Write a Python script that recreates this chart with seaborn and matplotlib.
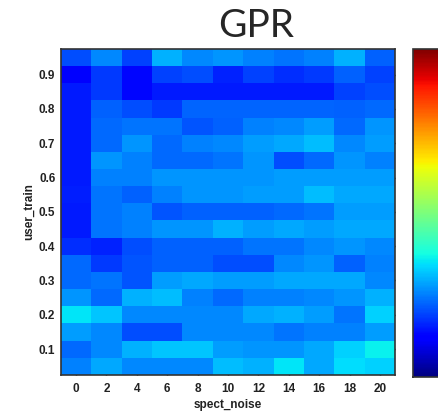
import matplotlib
matplotlib.use("Agg")
import matplotlib.pyplot as plt
import numpy as np
import pandas as pd
import seaborn as sns

# Assi della griglia
spect_noise = [0, 2, 4, 6, 8, 10, 12, 14, 16, 18, 20]
user_train = [0.95, 0.9, 0.85, 0.8, 0.75, 0.7, 0.65, 0.6, 0.55, 0.5,
              0.45, 0.4, 0.35, 0.3, 0.25, 0.2, 0.15, 0.1, 0.05]
ytick_labels = ["0.9", "0.8", "0.7", "0.6", "0.5", "0.4", "0.3", "0.2", "0.1"]

# Valori (scala normalizzata 0-1, riga per riga dall'alto)
row_095 = [0.20, 0.26, 0.19, 0.30, 0.26, 0.27, 0.25, 0.24, 0.25, 0.30, 0.22]
row_090 = [0.11, 0.18, 0.13, 0.19, 0.20, 0.16, 0.19, 0.17, 0.18, 0.22, 0.19]
row_085 = [0.15, 0.18, 0.13, 0.15, 0.15, 0.15, 0.15, 0.15, 0.15, 0.19, 0.20]
row_080 = [0.15, 0.22, 0.20, 0.18, 0.225, 0.225, 0.225, 0.225, 0.225, 0.22, 0.23]
row_075 = [0.15, 0.23, 0.24, 0.24, 0.21, 0.22, 0.25, 0.26, 0.28, 0.23, 0.27]
row_070 = [0.15, 0.23, 0.27, 0.23, 0.25, 0.26, 0.28, 0.29, 0.31, 0.26, 0.28]
row_065 = [0.15, 0.27, 0.25, 0.23, 0.23, 0.24, 0.27, 0.20, 0.23, 0.27, 0.25]
row_060 = [0.15, 0.25, 0.25, 0.27, 0.27, 0.27, 0.27, 0.28, 0.28, 0.28, 0.28]
row_055 = [0.155, 0.24, 0.22, 0.25, 0.27, 0.27, 0.28, 0.28, 0.31, 0.29, 0.29]
row_050 = [0.15, 0.24, 0.25, 0.21, 0.22, 0.22, 0.22, 0.23, 0.24, 0.28, 0.28]
row_045 = [0.15, 0.24, 0.25, 0.27, 0.27, 0.30, 0.28, 0.29, 0.28, 0.29, 0.29]
row_040 = [0.17, 0.16, 0.20, 0.22, 0.22, 0.22, 0.24, 0.24, 0.26, 0.27, 0.26]
row_035 = [0.23, 0.18, 0.21, 0.22, 0.22, 0.20, 0.20, 0.26, 0.27, 0.22, 0.25]
row_030 = [0.23, 0.24, 0.21, 0.28, 0.29, 0.28, 0.28, 0.29, 0.29, 0.29, 0.26]
row_025 = [0.27, 0.23, 0.30, 0.31, 0.25, 0.23, 0.25, 0.25, 0.26, 0.27, 0.30]
row_020 = [0.35, 0.32, 0.26, 0.26, 0.26, 0.26, 0.29, 0.30, 0.28, 0.24, 0.33]
row_015 = [0.28, 0.26, 0.20, 0.20, 0.26, 0.26, 0.26, 0.24, 0.25, 0.25, 0.28]
row_010 = [0.23, 0.26, 0.30, 0.32, 0.32, 0.28, 0.27, 0.27, 0.29, 0.33, 0.36]
row_005 = [0.25, 0.29, 0.26, 0.26, 0.26, 0.31, 0.30, 0.35, 0.29, 0.34, 0.33]

rows = [row_095, row_090, row_085, row_080, row_075, row_070, row_065, row_060,
        row_055, row_050, row_045, row_040, row_035, row_030, row_025, row_020,
        row_015, row_010, row_005]
df = pd.DataFrame(rows, index=user_train, columns=spect_noise)

sns.set_style("white")
plt.rcParams['font.family'] = ['Liberation Sans', 'DejaVu Sans']

fig = plt.figure(figsize=(4.38, 4.11), dpi=100)
ax = fig.add_axes([0.139, 0.088, 0.763, 0.793])
cax = fig.add_axes([0.943, 0.083, 0.08, 0.798])

sns.heatmap(df, ax=ax, cmap="jet", vmin=0, vmax=1, cbar=True, cbar_ax=cax,
            xticklabels=True, yticklabels=False)

# tick sull'asse y solo ogni 0.1
ypos = [user_train.index(float(t)) + 0.5 for t in ytick_labels]
ax.set_yticks(ypos)
ax.set_yticklabels(ytick_labels, rotation=0, fontsize=8.5, fontweight='bold', color='#222222')
ax.set_xticklabels(spect_noise, rotation=0, fontsize=8.5, fontweight='bold', color='#222222')
ax.tick_params(direction='in', length=3, width=1, color='black', top=True, right=True,
               bottom=True, left=True)
ax.tick_params(axis='x', pad=6)
ax.tick_params(axis='y', pad=4)
for s in ax.spines.values():
    s.set_visible(True)
    s.set_color('#333333')
    s.set_linewidth(1.2)

ax.set_xlabel('spect_noise', fontsize=8.5, fontweight='bold', color='#222222', labelpad=3)
ax.set_ylabel('user_train', fontsize=8.5, fontweight='bold', color='#222222', labelpad=3)
fig.text(0.585, 0.893, 'GPR', fontsize=28, family='Lato', ha='center', va='bottom')

# colorbar senza etichette
cbar = ax.collections[0].colorbar
cbar.set_ticks(np.linspace(0, 1, 9)[1:-1])
cax.tick_params(direction='in', length=3, width=1, color='black', left=True, right=True,
                labelright=False, labelleft=False)
cbar.outline.set_edgecolor('#333333')
cbar.outline.set_linewidth(1.2)

fig.savefig("out.png", dpi=100)
